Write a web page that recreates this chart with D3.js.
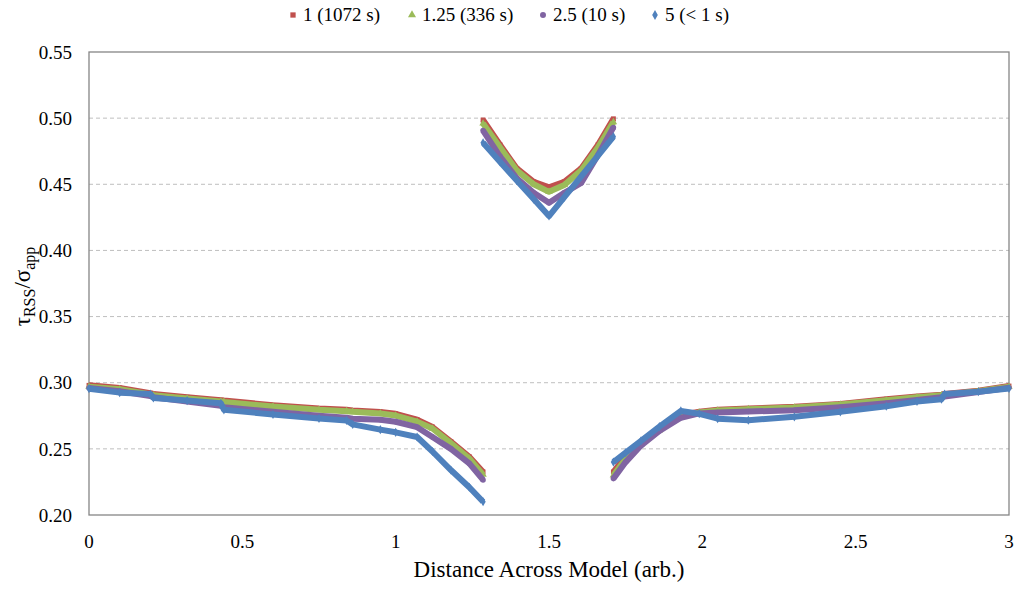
<!DOCTYPE html>
<html>
<head>
<meta charset="utf-8">
<script src="https://cdn.jsdelivr.net/npm/d3@7/dist/d3.min.js"></script>
</head>
<body style="margin:0">
<script>
// x positions of the three branches (shared by all series)
const xLeft  = [0, 0.1, 0.2, 0.21, 0.32, 0.43, 0.44, 0.6, 0.75, 0.84, 0.86, 0.95, 1.0, 1.07, 1.12, 1.18, 1.24, 1.285];
const xMid   = [1.285, 1.34, 1.395, 1.45, 1.5, 1.55, 1.605, 1.66, 1.71];
const xRight = [1.71, 1.75, 1.80, 1.86, 1.93, 1.99, 2.05, 2.15, 2.3, 2.45, 2.6, 2.7, 2.78, 2.79, 2.9, 3.0];

// series names
const seriesNames = ["1 (1072 s)", "1.25 (336 s)", "2.5 (10 s)", "5 (< 1 s)"];

// tau/sigma values, per series, per branch
const redLeft   = [0.298, 0.296, 0.292, 0.2915, 0.289, 0.2868, 0.2865, 0.283, 0.2805, 0.2795, 0.279, 0.2778, 0.2765, 0.272, 0.2665, 0.2555, 0.244, 0.2325];
const greenLeft = [0.297, 0.295, 0.2912, 0.2905, 0.288, 0.2858, 0.2855, 0.282, 0.2795, 0.2785, 0.278, 0.2768, 0.2752, 0.2705, 0.2654, 0.2543, 0.2427, 0.2305];
const purpleLeft= [0.296, 0.2935, 0.290, 0.289, 0.2858, 0.2825, 0.2815, 0.278, 0.275, 0.2735, 0.2728, 0.272, 0.2705, 0.2664, 0.259, 0.250, 0.239, 0.2265];
const blueLeft  = [0.2955, 0.2925, 0.2915, 0.2885, 0.2865, 0.2845, 0.2795, 0.276, 0.273, 0.2715, 0.2685, 0.2645, 0.2625, 0.259, 0.248, 0.234, 0.221, 0.210];

const redMid    = [0.4986, 0.4799, 0.462, 0.4519, 0.4477, 0.4519, 0.462, 0.4799, 0.4995];
const greenMid  = [0.496, 0.478, 0.4605, 0.450, 0.4443, 0.4495, 0.4605, 0.478, 0.497];
const purpleMid = [0.4906, 0.4711, 0.4545, 0.4436, 0.436, 0.4435, 0.451, 0.4721, 0.493];
const blueMid   = [0.4814, 0.467, 0.4529, 0.4388, 0.426, 0.4403, 0.456, 0.4717, 0.486];

const redRight   = [0.2325, 0.2445, 0.2545, 0.2655, 0.2755, 0.278, 0.2795, 0.2805, 0.2818, 0.284, 0.2875, 0.2895, 0.291, 0.2915, 0.294, 0.2975];
const greenRight = [0.230, 0.2425, 0.2535, 0.264, 0.2745, 0.2775, 0.279, 0.280, 0.2812, 0.2835, 0.2868, 0.289, 0.2905, 0.291, 0.2935, 0.297];
const purpleRight= [0.2275, 0.240, 0.2525, 0.2635, 0.2735, 0.2768, 0.2775, 0.2782, 0.2792, 0.2815, 0.2845, 0.287, 0.289, 0.2895, 0.293, 0.2962];
const blueRight  = [0.240, 0.2472, 0.2561, 0.2668, 0.2787, 0.2765, 0.2728, 0.2716, 0.2742, 0.278, 0.2822, 0.2858, 0.2875, 0.2915, 0.2932, 0.2956];

const yTicks = [0.20, 0.25, 0.30, 0.35, 0.40, 0.45, 0.50, 0.55];
const xTicks = [0, 0.5, 1, 1.5, 2, 2.5, 3];

const colors = ["#C0504D", "#9BBB59", "#8064A2", "#4F81BD"];
const shapes = [d3.symbolSquare, d3.symbolTriangle, d3.symbolCircle, d3.symbolDiamond];

const series = [
  [redLeft, redMid, redRight],
  [greenLeft, greenMid, greenRight],
  [purpleLeft, purpleMid, purpleRight],
  [blueLeft, blueMid, blueRight]
];
const branchX = [xLeft, xMid, xRight];

const width = 1021, height = 590;
const margin = {left: 89, right: 12, top: 52, bottom: 75};
const w = width - margin.left - margin.right;
const h = height - margin.top - margin.bottom;
const serif = "'Liberation Serif'";
const BASE = 42; // text is set large and scaled down

const svg = d3.select("body").append("svg")
    .attr("width", width)
    .attr("height", height);

const g = svg.append("g")
    .attr("transform", "translate(" + margin.left + "," + margin.top + ")");

const x = d3.scaleLinear().domain([0, 3]).range([0, w]);
const y = d3.scaleLinear().domain([0.20, 0.55]).range([h, 0]);

function serifText(sel, px, tx, ty) {
  return sel
      .attr("transform", d => "translate(" + tx(d) + "," + ty(d) + ") scale(" + (px / BASE) + ")")
      .attr("font-size", BASE)
      .style("font-family", serif)
      .attr("fill", "#000");
}

// gridlines
g.selectAll(".grid")
    .data(yTicks.slice(1, -1))
    .enter().append("line")
        .attr("x1", 0).attr("x2", w)
        .attr("y1", d => y(d)).attr("y2", d => y(d))
        .attr("stroke", "#BFBFBF")
        .attr("stroke-dasharray", "4,3")
        .attr("stroke-width", 1);

// plot border
g.append("rect")
    .attr("width", w).attr("height", h)
    .attr("fill", "none")
    .attr("stroke", "#868686")
    .attr("stroke-width", 1.3);

// series
const line = d3.line().x(d => x(d[0])).y(d => y(d[1]));

series.forEach((branches, i) => {
  const sg = g.append("g").attr("class", "series s" + i);
  branches.forEach((vals, b) => {
    const pts = vals.map((v, k) => [branchX[b][k], v]);
    sg.append("path")
        .attr("d", line(pts))
        .attr("fill", "none")
        .attr("stroke", colors[i])
        .attr("stroke-width", 6)
        .attr("stroke-linejoin", "round");
    sg.selectAll(".m" + b)
        .data(pts)
        .enter().append("path")
            .attr("transform", d => "translate(" + x(d[0]) + "," + y(d[1]) + ")")
            .attr("d", d3.symbol().type(shapes[i]).size(24))
            .attr("fill", colors[i]);
  });
});

// tick labels drawn from the scales
g.selectAll(".ytick")
    .data(yTicks)
    .enter().append("text")
        .attr("class", "ytick")
        .attr("dy", "0.35em")
        .attr("text-anchor", "end")
        .call(serifText, 19, () => -17, d => y(d))
        .text(d3.format(".2f"));

g.selectAll(".xtick")
    .data(xTicks)
    .enter().append("text")
        .attr("class", "xtick")
        .attr("text-anchor", "middle")
        .call(serifText, 19, d => x(d), () => h + 33)
        .text(d => d);

// axis titles
svg.append("text")
    .datum(0)
    .attr("text-anchor", "middle")
    .call(serifText, 23, () => margin.left + w / 2, () => 577)
    .text("Distance Across Model (arb.)");

const ySub = BASE * 16 / 23;
const yt = svg.append("text")
    .attr("transform", "translate(30," + (margin.top + h / 2 + 3) + ") rotate(-90) scale(" + (23 / BASE) + ")")
    .attr("font-size", BASE)
    .style("font-family", serif)
    .attr("text-anchor", "middle");
yt.append("tspan").text("τ");
yt.append("tspan").attr("font-size", ySub).attr("dy", 9).text("RSS");
yt.append("tspan").attr("dy", -9).text("/σ");
yt.append("tspan").attr("font-size", ySub).attr("dy", 9).text("app");

// legend
const legendX = [293, 412, 543, 655];
const legend = svg.append("g").attr("class", "legend");
seriesNames.forEach((name, i) => {
  legend.append("path")
      .attr("transform", "translate(" + legendX[i] + ",15)")
      .attr("d", d3.symbol().type(shapes[i]).size(28))
      .attr("fill", colors[i]);
  legend.append("text")
      .datum(name)
      .call(serifText, 19, () => legendX[i] + 10, () => 21)
      .text(name);
});
</script>
</body>
</html>
